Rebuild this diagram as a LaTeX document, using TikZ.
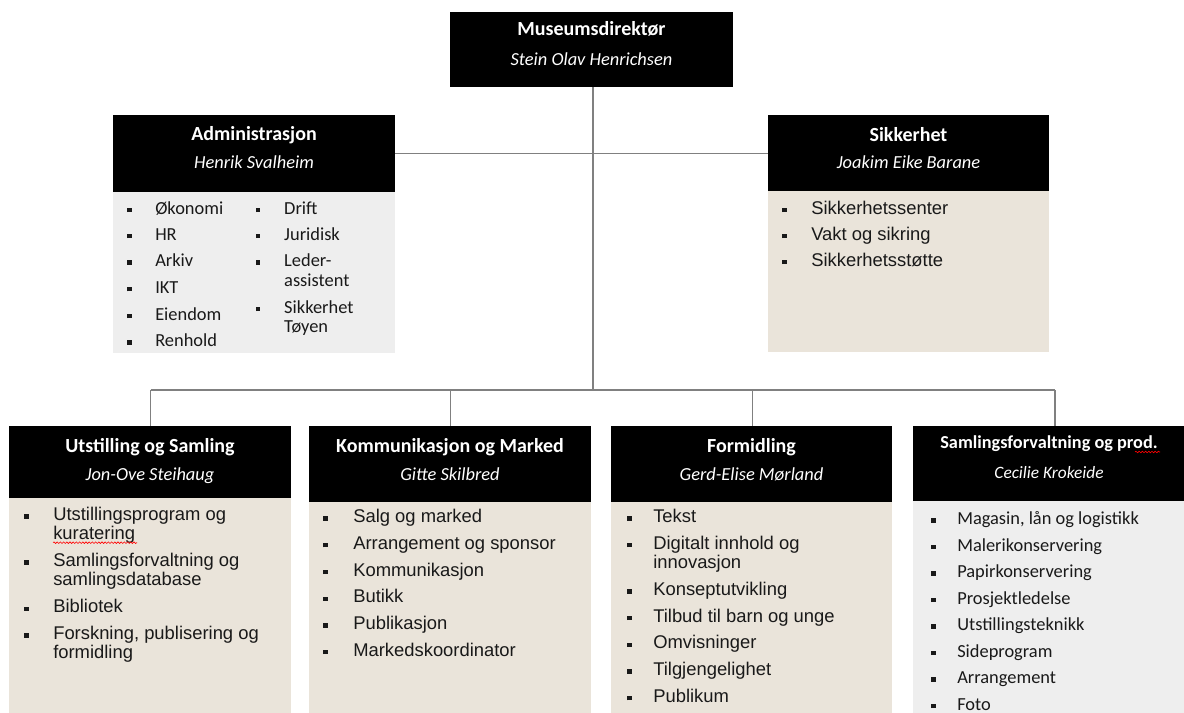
\documentclass[tikz,border=0pt]{standalone}
\usepackage{fontspec}
\setmainfont{Liberation Sans}
\newfontfamily\calfont{Carlito}
\usetikzlibrary{fit,decorations.pathmorphing}
\definecolor{beige}{RGB}{234,228,218}
\definecolor{lgray}{RGB}{238,238,238}
\definecolor{conncol}{RGB}{128,128,128}
\definecolor{txt}{RGB}{25,25,25}
\tikzset{
  hdr/.style={fill=black, draw=none, inner sep=0pt},
  bodyb/.style={fill=beige, draw=none, inner sep=0pt},
  bodyg/.style={fill=lgray, draw=none, inner sep=0pt},
  ttl/.style={text=white, font=\calfont\bfseries\fontsize{15}{18}\selectfont, anchor=base, inner sep=0pt},
  nm/.style={text=white, font=\calfont\itshape\fontsize{13.8}{16}\selectfont, anchor=base, inner sep=0pt},
  ttlsm/.style={ttl, font=\calfont\bfseries\fontsize{13.7}{16}\selectfont},
  nmsm/.style={nm, font=\calfont\itshape\fontsize{13}{15}\selectfont},
  conn/.style={draw=conncol, line width=0.8pt},
  itma/.style={anchor=base west, inner sep=0pt, text=txt, font=\fontsize{13.8}{14.25}\selectfont},
  itmc/.style={anchor=base west, inner sep=0pt, text=txt, font=\calfont\fontsize{13.8}{14.5}\selectfont},
  spell/.style={draw=red, line width=0.45pt, decorate, decoration={snake, amplitude=0.6pt, segment length=2.4pt}}
}
\newcommand\itm[6]{\node[#1] (#2) at (#3,#4) {\makebox[#5][l]{\rule[1.5pt]{3.2pt}{3.2pt}}\parbox[t]{190pt}{\raggedright #6}};}
\begin{document}
\begin{tikzpicture}[x=0.75pt,y=-0.75pt]
\useasboundingbox (0,0) rectangle (1184,713);
\fill[white] (0,0) rectangle (1184,713);

% ---- boxes ----
\node[hdr, fit={(450,12) (733,87)}] (top) {};
\node[hdr, fit={(113,115) (395,192)}] (admh) {};
\node[bodyg, fit={(113,192) (395,353)}] (admb) {};
\node[hdr, fit={(768,115) (1049,191)}] (sikh) {};
\node[bodyb, fit={(768,191) (1049,352)}] (sikb) {};
\node[hdr, fit={(9,426) (291,498)}] (b1h) {};
\node[bodyb, fit={(9,498) (291,713)}] (b1b) {};
\node[hdr, fit={(309,426) (591,502)}] (b2h) {};
\node[bodyb, fit={(309,502) (591,713)}] (b2b) {};
\node[hdr, fit={(611,426) (892,502)}] (b3h) {};
\node[bodyb, fit={(611,502) (892,713)}] (b3b) {};
\node[hdr, fit={(913,426) (1186,501)}] (b4h) {};
\node[bodyg, fit={(913,501) (1186,713)}] (b4b) {};

% ---- connectors ----
\coordinate (j) at (593,390);
\coordinate (d1) at (150.7,390);
\coordinate (d2) at (450.7,390);
\coordinate (d3) at (752.3,390);
\coordinate (d4) at (1055,390);
\draw[conn] (top.south -| j) -- (j);
\draw[conn] (admh.east) -- (admh.east -| sikh.west);
\draw[conn] (d1) -- (d4);
\draw[conn] (d1) -- (d1 |- b1h.north);
\draw[conn] (d2) -- (d2 |- b2h.north);
\draw[conn] (d3) -- (d3 |- b3h.north);
\draw[conn] (d4) -- (d4 |- b4h.north);

% ---- header texts ----
\node[ttl] (topt) at (591.5,36) {Museumsdirektør};
\node[nm]  (topn) at (591.5,66) {Stein Olav Henrichsen};
\node[ttl] (admt) at (254,141) {Administrasjon};
\node[nm]  (admn) at (254,168.5) {Henrik Svalheim};
\node[ttl] (sikt) at (908.5,141.5) {Sikkerhet};
\node[nm]  (sikn) at (908.5,169) {Joakim Eike Barane};
\node[ttl] (b1t) at (150,452.5) {Utstilling og Samling};
\node[nm]  (b1n) at (150,480.5) {Jon-Ove Steihaug};
\node[ttl] (b2t) at (450,452.5) {Kommunikasjon og Marked};
\node[nm]  (b2n) at (450,480.5) {Gitte Skilbred};
\node[ttl] (b3t) at (751.5,452.5) {Formidling};
\node[nm]  (b3n) at (751.5,480.5) {Gerd-Elise Mørland};
\node[ttlsm] (b4t) at (1049,448.5) {Samlingsforvaltning og prod.};
\node[nmsm]  (b4n) at (1049,478) {Cecilie Krokeide};

% ---- Administrasjon items ----
\itm{itmc}{a1}{127}{214}{21pt}{Økonomi}
\itm{itmc}{a2}{127}{240}{21pt}{HR}
\itm{itmc}{a3}{127}{266.7}{21pt}{Arkiv}
\itm{itmc}{a4}{127}{293.3}{21pt}{IKT}
\itm{itmc}{a5}{127}{320}{21pt}{Eiendom}
\itm{itmc}{a6}{127}{346.7}{21pt}{Renhold}
\itm{itmc}{a7}{255.7}{214}{21.2pt}{Drift}
\itm{itmc}{a8}{255.7}{240}{21.2pt}{Juridisk}
\itm{itmc}{a9}{255.7}{266.7}{21.2pt}{Leder-\\assistent}
\itm{itmc}{a10}{255.7}{313}{21.2pt}{Sikkerhet\\Tøyen}

% ---- Sikkerhet items ----
\itm{itma}{s1}{782}{214}{21.75pt}{Sikkerhetssenter}
\itm{itma}{s2}{782}{240}{21.75pt}{Vakt og sikring}
\itm{itma}{s3}{782}{266}{21.75pt}{Sikkerhetsstøtte}

% ---- Utstilling og Samling items ----
\itm{itma}{u1}{24}{520.5}{21.75pt}{Utstillingsprogram og\\kuratering}
\itm{itma}{u2}{24}{566.5}{21.75pt}{Samlingsforvaltning og\\samlingsdatabase}
\itm{itma}{u3}{24}{612.8}{21.75pt}{Bibliotek}
\itm{itma}{u4}{24}{639.5}{21.75pt}{Forskning, publisering og\\formidling}

% ---- Kommunikasjon og Marked items ----
\itm{itma}{k1}{323}{522.7}{22.5pt}{Salg og marked}
\itm{itma}{k2}{323}{549.4}{22.5pt}{Arrangement og sponsor}
\itm{itma}{k3}{323}{576.1}{22.5pt}{Kommunikasjon}
\itm{itma}{k4}{323}{602.8}{22.5pt}{Butikk}
\itm{itma}{k5}{323}{629.5}{22.5pt}{Publikasjon}
\itm{itma}{k6}{323}{656.2}{22.5pt}{Markedskoordinator}

% ---- Formidling items ----
\itm{itma}{f1}{627}{522.7}{19.5pt}{Tekst}
\itm{itma}{f2}{627}{549}{19.5pt}{Digitalt innhold og\\innovasjon}
\itm{itma}{f3}{627}{595.5}{19.5pt}{Konseptutvikling}
\itm{itma}{f4}{627}{622.2}{19.5pt}{Tilbud til barn og unge}
\itm{itma}{f5}{627}{648.9}{19.5pt}{Omvisninger}
\itm{itma}{f6}{627}{675.6}{19.5pt}{Tilgjengelighet}
\itm{itma}{f7}{627}{702.3}{19.5pt}{Publikum}

% ---- Samlingsforvaltning og prod. items ----
\itm{itmc}{p1}{931}{524.5}{19.5pt}{Magasin, lån og logistikk}
\itm{itmc}{p2}{931}{551}{19.5pt}{Malerikonservering}
\itm{itmc}{p3}{931}{577.5}{19.5pt}{Papirkonservering}
\itm{itmc}{p4}{931}{604}{19.5pt}{Prosjektledelse}
\itm{itmc}{p5}{931}{630.5}{19.5pt}{Utstillingsteknikk}
\itm{itmc}{p6}{931}{657}{19.5pt}{Sideprogram}
\itm{itmc}{p7}{931}{683.5}{19.5pt}{Arrangement}
\itm{itmc}{p8}{931}{710}{19.5pt}{Foto}

% ---- spell-check marks ----
\draw[spell] (53,542.7) -- (137,542.7);
\draw[spell] (1135,452) -- (1160,452);
\end{tikzpicture}
\end{document}
